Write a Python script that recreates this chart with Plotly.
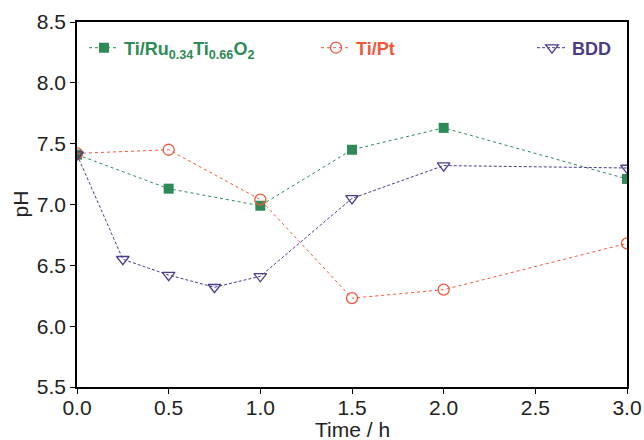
import plotly.graph_objects as go

t_ru = [0, 0.5, 1.0, 1.5, 2.0, 3.0]
ph_ru = [7.41, 7.13, 6.99, 7.45, 7.63, 7.21]
t_pt = [0, 0.5, 1.0, 1.5, 2.0, 3.0]
ph_pt = [7.42, 7.45, 7.04, 6.23, 6.30, 6.68]
t_bdd = [0, 0.25, 0.5, 0.75, 1.0, 1.5, 2.0, 3.0]
ph_bdd = [7.41, 6.55, 6.42, 6.32, 6.41, 7.05, 7.32, 7.30]

GREEN = "#2e8b57"
RED = "#f0583c"
PURPLE = "#4b3d8a"
FONT = "Liberation Sans, Arial"

fig = go.Figure()
fig.add_trace(go.Scatter(
    x=t_ru, y=ph_ru, mode="lines+markers", legend="legend",
    name=f"<b><span style='color:{GREEN}'>Ti/Ru<sub>0.34</sub>Ti<sub>0.66</sub>O<sub>2</sub></span></b>",
    line=dict(color=GREEN, width=1, dash="dot"),
    marker=dict(symbol="square", size=10, color=GREEN)))
fig.add_trace(go.Scatter(
    x=t_pt, y=ph_pt, mode="lines+markers", legend="legend2",
    name=f"<b><span style='color:{RED}'>Ti/Pt</span></b>",
    line=dict(color=RED, width=1, dash="dot"),
    marker=dict(symbol="circle-open", size=11, color=RED, line=dict(width=1.3))))
fig.add_trace(go.Scatter(
    x=t_bdd, y=ph_bdd, mode="lines+markers", legend="legend3",
    name=f"<b><span style='color:{PURPLE}'>BDD</span></b>",
    line=dict(color=PURPLE, width=1, dash="3px,2px"),
    marker=dict(symbol="triangle-down-open", size=11, color=PURPLE, line=dict(width=1.3))))

axis_common = dict(showline=True, linecolor="black", linewidth=1.5, mirror=True,
                   ticks="outside", ticklen=5, tickwidth=1.2, tickcolor="black",
                   showgrid=False, zeroline=False, automargin=False,
                   tickfont=dict(family=FONT, size=21, color="#222"))

L, R, T, B = 77, 17, 22, 53
W = 644 - L - R
H = 440 - T - B

leg_common = dict(orientation="h", yanchor="middle", xanchor="left",
                  y=(440 - B - 48) / H,
                  bgcolor="rgba(0,0,0,0)", itemwidth=30,
                  font=dict(size=18, family=FONT))

fig.update_layout(
    width=644, height=440,
    margin=dict(l=L, r=R, t=T, b=B),
    paper_bgcolor="white", plot_bgcolor="white",
    font=dict(family=FONT, color="#222"),
    xaxis=dict(range=[0, 3], dtick=0.5, tickformat=".1f", ticklabelstandoff=-4,
               **axis_common),
    yaxis=dict(range=[5.5, 8.5], dtick=0.5, tickformat=".1f", **axis_common),
    legend=dict(x=(84 - L) / W, **leg_common),
    legend2=dict(x=(316 - L) / W, **leg_common),
    legend3=dict(x=(532 - L) / W, **leg_common),
    showlegend=True,
    annotations=[
        dict(text="Time / h", xref="paper", yref="paper", x=0.5, y=0,
             yshift=-42, yanchor="middle", showarrow=False,
             font=dict(size=21, family=FONT, color="#222")),
        dict(text="pH", xref="paper", yref="paper", x=0, y=0.5,
             xshift=-57, xanchor="center", textangle=-90, showarrow=False,
             font=dict(size=21, family=FONT, color="#222")),
    ],
)

fig.write_html("out.html")
